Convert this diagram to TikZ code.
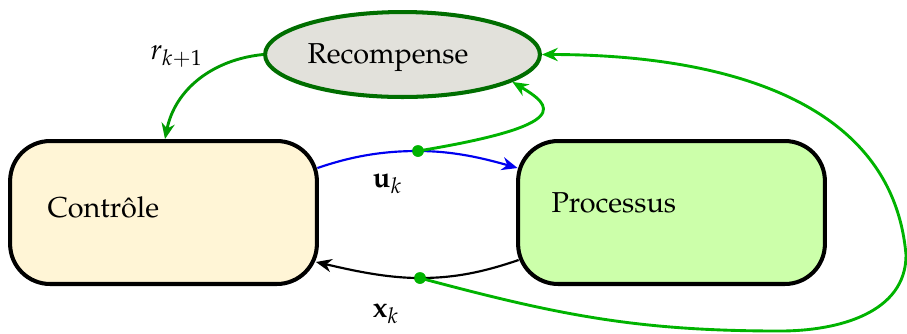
\documentclass[tikz,border=0pt]{standalone}
\usepackage[T1]{fontenc}
\usepackage{mathpazo}
\usetikzlibrary{arrows.meta,shapes.geometric,calc}
\definecolor{ctrlfill}{HTML}{FFF5D6}
\definecolor{procfill}{HTML}{CCFFAA}
\definecolor{rewfill}{HTML}{E2E1DB}
\definecolor{rewborder}{HTML}{006E00}
\definecolor{darkgr}{HTML}{009A00}
\definecolor{litegr}{HTML}{00B300}
\definecolor{arrblue}{HTML}{0000F0}
\begin{document}
\begin{tikzpicture}[x=0.0122cm,y=-0.0122cm,
  box/.style={draw=black,line width=1.4pt,rounded corners=0.488cm,minimum width=3.745cm,minimum height=1.745cm,inner sep=0pt},
  rewshape/.style={ellipse,draw=rewborder,fill=rewfill,line width=1.4pt,minimum width=3.355cm,minimum height=1.037cm,inner sep=0pt},
  txt/.style={anchor=base west,inner sep=0pt,font=\normalsize},
  dot/.style={circle,fill=litegr,draw=none,minimum size=4pt,inner sep=0pt},
  tip/.style={-{Stealth[length=5.5pt,width=4.6pt,inset=1.8pt]}},
  gline/.style={litegr,line width=1pt},
  ]
\useasboundingbox (0,0) rectangle (907,333);
% nodes
\node[box,fill=ctrlfill] (ctrl) at (163.5,212.5) {};
\node[box,fill=procfill] (proc) at (671.5,212.5) {};
\node[rewshape] (rew) at (402.5,54.5) {};
\node[txt] (ctrltxt) at (47,217) {Contrôle};
\node[txt] (proctxt) at (551,212) {Processus};
\node[txt] (rewtxt) at (307,63) {Recompense};
\node[txt] (rlab) at (150,59) {$r_{k+1}$};
\node[txt] (ulab) at (372,187) {$\mathbf{u}_k$};
\node[txt] (xlab) at (372,317) {$\mathbf{x}_k$};
\node[dot] (du) at (418,151) {};
\node[dot] (dx) at (420,278) {};
% boundary points
\coordinate (cU) at ($(ctrl.north east)+(-1.5,29)$);
\coordinate (pU) at ($(proc.north west)+(1.5,29)$);
\coordinate (pX) at ($(proc.south west)+(2.5,-26)$);
\coordinate (cX) at ($(ctrl.south east)+(-3,-24)$);
\coordinate (gb) at (780,331);
\coordinate (gr) at (906,255);
% connectors
\draw[darkgr,line width=1pt,tip] (rew.west) .. controls +(-50,5) and +(10,-50) .. ($(ctrl.north)+(1.5,0)$);
\draw[arrblue,line width=0.75pt,tip] (cU) .. controls +(35,-12) and +(-35,0) .. (du.center) .. controls +(35,0) and +(-35,-10) .. (pU);
\draw[black,line width=0.75pt,tip] (pX) .. controls +(-35,12) and +(35,0) .. (dx.center) .. controls +(-35,0) and +(35,8) .. (cX);
\draw[gline,tip] (du.center) .. controls +(157,-26) and +(40,24) .. (rew.-14);
\draw[gline,tip] (dx.center) .. controls +(138,37) and +(-143,0) .. (gb) .. controls +(58,0) and +(0,58) .. (gr) .. controls +(-14,-163) and +(164,0) .. (rew.east);
\node[dot] at (du) {};
\node[dot] at (dx) {};
\end{tikzpicture}
\end{document}
